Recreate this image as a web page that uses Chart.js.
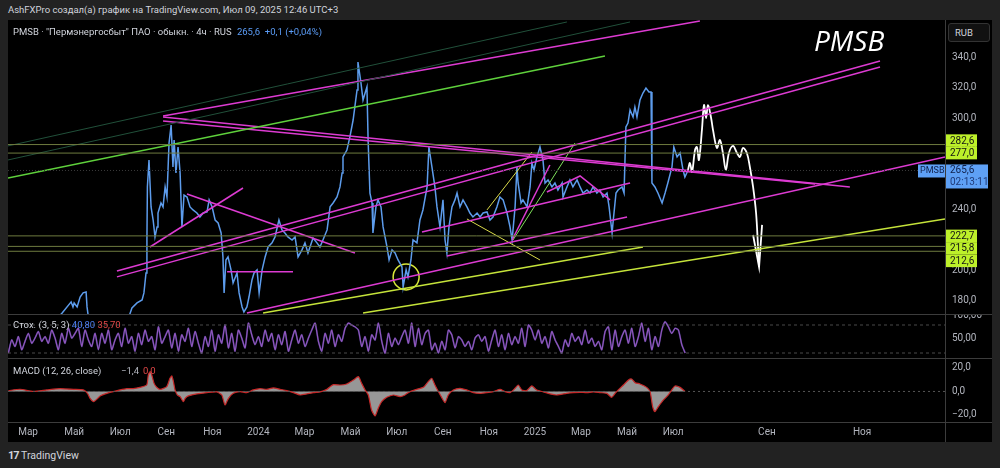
<!DOCTYPE html>
<html>
<head>
<meta charset="utf-8">
<script src="https://cdn.jsdelivr.net/npm/chart.js@4.4.1/dist/chart.umd.min.js"></script>
<style>
  body { margin:0; width:1000px; height:468px; overflow:hidden; background:#222; position:relative;
         font-family: Roboto, "Noto Sans", sans-serif; color:#d1d4dc; }
  .abs { position:absolute; white-space:nowrap; }
  canvas { position:absolute; }
  .sep { position:absolute; background:#3c3c3c; }
</style>
</head>
<body>
<div class="abs" style="left:8px;top:4px;font-size:9.5px;line-height:12px">AshFXPro создал(а) график на TradingView.com, Июл 09, 2025 12:46 UTC+3</div>
<div class="abs" style="left:8px;top:20px;width:984px;height:422px;background:#000"></div>

<canvas id="main" width="984" height="295" style="left:8px;top:20px"></canvas>
<canvas id="stoch" width="984" height="43" style="left:8px;top:315px"></canvas>
<canvas id="macd" width="984" height="84" style="left:8px;top:358px"></canvas>

<div class="sep" style="left:8px;top:314px;width:984px;height:1px"></div>
<div class="sep" style="left:8px;top:358px;width:984px;height:1px"></div>
<div class="sep" style="left:8px;top:422px;width:984px;height:1px"></div>
<div class="sep" style="left:945px;top:20px;width:1px;height:422px"></div>

<div class="abs" style="left:948px;top:23px;width:40px;height:17px;border:1px solid #333;border-radius:3px;background:#111;font-size:9.5px;line-height:17px;text-indent:6px">RUB</div>

<div class="abs" style="left:13px;top:26px;font-size:9.5px;line-height:12px">PMSB · "Пермэнергосбыт" ПАО · обыкн. · 4ч · RUS <span style="color:#5b9cf6;margin-left:3px">265,6 &nbsp;+0,1 (+0,04%)</span></div>
<div class="abs" style="left:814px;top:22px;font-size:28px;font-style:italic;color:#fff;font-family:'Open Sans',sans-serif;line-height:36px">PMSB</div>

<div class="abs" style="left:13px;top:319px;font-size:9.5px;line-height:12px">Стох. (3, 5, 3) <span style="color:#4d7ff0">40,80</span> <span style="color:#e04848">35,70</span></div>
<div class="abs" style="left:13px;top:365px;font-size:9.5px;line-height:12px">MACD (12, 26, close)</div>
<div class="abs" style="left:121px;top:365px;font-size:9.5px;line-height:12px;color:#b2b5be">−1,4</div>
<div class="abs" style="left:143px;top:365px;font-size:9.5px;line-height:12px;color:#e04848">0,0</div>

<div class="abs" style="left:8px;top:449px;font-size:10.5px;line-height:14px"><b style="letter-spacing:-1px;font-size:11px">17</b> TradingView</div>

<script>
// x unit: months since Jan 2023 (history spacing), future ticks as drawn by TradingView
const xMin = 1.13, xMax = 41.8;
const timeTicks = [2,4,6,8,10,12,14,16,18,20,22,24,26,28,30,34.07,38.2];
const timeLabels = ['Мар','Май','Июл','Сен','Ноя','2024','Мар','Май','Июл','Сен','Ноя','2025','Мар','Май','Июл','Сен','Ноя'];
const priceTicks = [180,200,220,240,260,280,300,320,340];

const priceT = [1.13,2.09,3.17,3.48,3.87,3.95,4.00,4.13,4.26,4.39,
  4.52,4.56,4.65,5.56,6.34,6.51,6.73,6.95,7.03,7.12,
  7.16,7.18,7.25,7.34,7.43,7.51,7.60,7.64,7.77,7.86,
  7.95,8.03,8.12,8.21,8.29,8.34,8.42,8.51,8.60,8.68,
  8.77,8.90,9.03,9.16,9.33,9.46,9.60,9.77,9.86,9.99,
  10.12,10.25,10.38,10.46,10.51,10.59,10.68,10.81,10.90,11.07,
  11.16,11.29,11.37,11.50,11.59,11.72,11.81,11.94,12.03,12.16,
  12.29,12.42,12.59,12.72,12.89,13.02,13.15,13.28,13.46,13.59,
  13.72,13.89,14.02,14.15,14.37,14.54,14.67,14.80,14.98,15.11,
  15.24,15.41,15.54,15.63,15.67,15.84,15.97,16.11,16.28,16.32,
  16.45,16.54,16.63,16.71,16.76,16.84,16.93,16.97,17.10,17.19,
  17.32,17.41,17.58,17.67,17.80,17.93,18.06,18.23,18.28,18.41,
  18.49,18.62,18.71,18.88,19.01,19.14,19.32,19.40,19.53,19.66,
  19.75,19.88,20.01,20.10,20.18,20.27,20.40,20.53,20.62,20.75,
  20.88,21.05,21.18,21.31,21.49,21.62,21.75,21.92,22.05,22.18,
  22.35,22.48,22.62,22.79,22.92,23.01,23.14,23.22,23.27,23.40,
  23.48,23.66,23.79,23.87,23.96,24.09,24.22,24.35,24.44,24.57,
  24.74,24.87,25.00,25.18,25.22,25.39,25.52,25.65,25.83,25.96,
  26.09,26.26,26.39,26.52,26.69,26.82,26.96,27.13,27.22,27.35,
  27.39,27.52,27.61,27.78,27.87,27.95,28.04,28.13,28.26,28.34,
  28.43,28.56,28.69,28.82,28.95,29.04,29.08,29.21,29.34,29.52,
  29.65,29.77,29.95,30.03,30.17,30.30,30.43,30.51,30.64];
const priceV = [162,165,167,172.1,179.4,176.1,178.7,176.1,182.6,185.3,
  185.9,176.1,166,163,168,175.4,178.7,180.7,185.3,198.4,
  220.0,254.8,272.5,241.7,233.1,222.0,228.6,237.7,244.3,241.7,
  254.8,248.2,283.6,295.4,267.9,285.6,264.0,281.0,264.0,228.6,
  249.5,248.2,241.7,239.7,237.7,235.1,237.7,238.4,246.3,241.7,
  233.1,231.2,224.6,208.9,185.3,206.9,208.9,200.4,191.8,198.4,
  185.3,176.1,172.8,176.1,182.6,193.8,198.4,200.4,185.3,200.4,
  208.9,215.4,218.1,222.0,233.1,226.6,224.6,222.0,220.0,222.0,
  208.9,213.5,218.1,211.5,221.3,218.1,215.4,220.0,226.6,241.7,
  244.3,248.2,254.8,264.0,274.5,279.0,287.6,298.7,318.4,336.7,
  323.0,311.8,316.4,320.4,285.6,250.8,244.3,224.6,241.7,246.3,
  241.7,228.6,215.4,206.9,213.5,211.5,206.9,202.3,189.2,200.4,
  195.8,206.9,220.0,218.1,233.1,239.7,254.8,281.0,267.9,254.8,
  241.7,228.6,246.3,220.0,211.5,228.6,241.7,246.3,250.8,241.7,
  246.3,241.7,237.7,235.1,237.7,235.1,237.7,238.4,233.1,235.1,
  241.7,248.2,246.3,237.7,228.6,220.0,241.7,267.9,257.4,244.3,
  246.3,241.7,254.8,270.5,265.9,274.5,281.0,272.5,257.4,259.4,
  254.8,257.4,252.8,257.4,248.2,254.8,259.4,254.8,259.4,254.8,
  250.8,252.8,250.8,254.8,250.8,252.8,248.2,250.8,241.7,224.6,
  231.2,250.8,252.8,254.8,250.8,294.1,296.7,305.3,300.7,307.2,
  300.7,311.8,316.4,319.7,317.1,317.1,257.4,254.8,250.8,244.3,
  250.8,257.4,267.9,281.0,274.5,277.1,265.9,261.3,265.6];

// hand-drawn forecast
const fcT = [30.64,30.73,30.82,30.95,31.03,31.12,31.25,31.34,31.43,31.51,31.64,31.73,31.90,32.03,32.16,32.29,32.42,32.60,32.77,32.90,33.03,33.20,33.33,33.47,33.60,33.68,33.73];
const fcV = [265.6,270.5,264.6,279.0,281.0,272.5,292.2,308.5,300.0,308.5,300.7,292.2,280.4,285.6,277.1,265.9,277.1,281.7,277.1,274.5,280.4,277.1,267.9,254.8,237.7,216.8,202.3];
const arrowT = [33.47,33.73,33.86];
const arrowV = [223.3,202.3,229.9];

const lastPrice = 265.6;
const levelValues = [282.6, 277.0, 222.7, 215.8, 212.6];

// drawings [month, price]
const darkGreenLines = [[[1.13,281.7],[25.39,363.0]], [[1.13,272.5],[28.13,363.0]]];
const greenLines = [[[1.13,260.7],[27.04,340.7]]];
const lightGreenLines = [[[23.05,220.0],[25.74,283.6]]];
const magentaLines = [
  [[7.86,301.3],[31.16,363.6]],
  [[7.86,300.7],[37.67,254.8]],
  [[7.86,298.1],[36.16,256.8]],
  [[5.86,199.7],[38.98,337.4]],
  [[5.86,195.8],[38.98,333.5]],
  [[11.50,172.1],[41.80,274.5]],
  [[8.90,250.2],[16.19,211.5]],
  [[7.29,215.4],[11.33,254.1]],
  [[10.64,199.1],[13.50,199.1]],
  [[19.10,225.3],[28.13,257.4]],
  [[20.18,209.5],[28.00,235.1]],
  [[23.01,220.0],[24.65,269.2]],
  [[24.52,251.5],[25.96,262.0],[27.26,246.3]]
];
const limeLines = [[[12.20,172.1],[28.69,215.4]], [[16.54,172.1],[41.80,233.8]]];
const yellowLines = [[[21.05,233.8],[24.22,206.9]], [[21.92,239.7],[23.87,277.7]]];
const circleMark = [18.41, 195.8];

// Stochastic, evenly spaced samples
const stochStart = 1.146, stochStep = 0.1447;
const stochV = [20,48,34,55,27,45,62,41,52,66,
  45,55,41,69,52,27,62,41,73,52,
  62,73,34,69,48,34,62,27,62,41,
  69,27,48,62,34,73,41,55,24,62,
  38,69,45,55,27,76,41,55,69,31,
  62,24,59,45,73,34,66,41,20,55,
  34,69,24,59,41,80,31,62,24,69,
  52,31,84,59,38,55,34,69,45,62,
  27,59,38,66,24,48,69,41,59,34,
  52,69,84,45,24,62,41,69,34,59,
  45,73,84,
  80,76,69,34,55,24,59,48,84,45,
  20,62,34,52,38,55,69,41,84,34,
  73,38,62,69,27,41,20,45,27,69,
  59,31,55,48,34,45,27,52,59,45,
  55,24,48,69,34,59,27,62,38,55,
  41,73,34,80,69,48,69,41,55,31,
  66,48,34,20,48,34,62,45,55,38,
  69,41,52,34,45,27,66,76,27,69,
  34,55,69,41,73,34,55,84,45,73,
  27,55,34,69,87,76,62,73,69,38,
  20];
const stochLevels = [80, 20];
const stochTicks = [50, 100];

// MACD
const macdT = [1.15,1.65,2.23,2.81,3.39,3.97,4.40,4.58,4.69,4.84,
  4.98,5.13,5.42,5.70,5.99,6.28,6.57,6.86,7.15,7.22,
  7.30,7.37,7.47,7.59,7.73,8.02,8.16,8.24,8.31,8.38,
  8.48,8.60,8.74,8.82,8.96,9.32,9.76,10.19,10.41,10.55,
  10.70,10.91,11.20,11.49,11.78,12.07,12.36,12.65,12.94,13.23,
  13.52,13.81,14.10,14.39,14.68,14.97,15.11,15.26,15.54,15.83,
  16.12,16.34,16.48,16.63,16.77,16.91,17.06,17.20,17.35,17.57,
  17.86,18.15,18.36,18.58,18.87,19.16,19.37,19.52,19.66,19.81,
  19.95,20.10,20.24,20.46,20.75,21.04,21.33,21.62,21.91,22.20,
  22.49,22.70,22.92,23.14,23.28,23.43,23.64,23.86,24.08,24.37,
  24.66,24.95,25.38,25.67,25.96,26.25,26.54,26.83,27.12,27.33,
  27.48,27.62,27.84,28.06,28.20,28.35,28.56,28.85,29.00,29.11,
  29.21,29.36,29.58,29.79,29.94,30.08,30.30,30.52];
const macdV = [0.7,1.9,0.1,1.3,2.4,1.8,1.3,-1.6,-5.8,-8.7,
  -6.7,-3.8,-1.6,-0.1,1.3,2.4,2.4,3.5,5.5,14.0,
  16.9,14.0,6.9,3.5,1.8,4.1,11.2,13.2,8.4,1.3,
  -3.0,-4.4,-8.7,-5.8,-3.8,-2.1,-1.0,-0.4,-3.0,-11.5,
  -5.8,-1.6,-0.1,-1.0,1.3,2.4,1.8,3.0,1.8,0.7,
  -1.0,-3.0,-2.1,-1.0,-0.4,1.8,4.1,5.8,5.5,6.4,
  9.8,12.6,6.9,1.3,-3.0,-15.8,-20.9,-14.3,-8.7,-5.0,
  -3.0,-4.4,-3.0,-0.1,1.8,3.5,8.4,11.2,5.5,-0.1,
  -5.0,-9.5,-3.0,1.3,2.7,1.3,-1.0,-1.6,-1.0,-0.1,
  1.8,-0.1,-1.0,2.7,5.5,1.3,0.7,4.7,1.3,-0.4,
  -2.1,-3.0,-1.6,-1.0,-0.7,-1.0,-0.4,-1.0,-1.6,-5.0,
  -1.6,1.3,5.5,9.8,10.6,7.5,6.4,3.5,-0.1,-12.9,
  -17.2,-12.9,-7.2,-3.0,1.3,4.7,3.5,-0.1];
const macdTicks = [-20, 0, 20];

Chart.defaults.font.family = 'Roboto, "Noto Sans", sans-serif';
Chart.defaults.font.size = 10;
Chart.defaults.color = '#b2b5be';

const comma = (v, d) => v.toFixed(d).replace('.', ',').replace('-', '−');

function lineSet(lines, color, width, dash) {
  return lines.map(l => ({
    data: l.map(p => ({x: p[0], y: p[1]})),
    borderColor: color, borderWidth: width, borderDash: dash || [],
    pointRadius: 0, tension: 0
  }));
}
function hLine(v, color, dash) {
  return {data: [{x: xMin, y: v}, {x: xMax, y: v}], borderColor: color, borderWidth: 1,
          borderDash: dash || [], pointRadius: 0};
}
function yAxis(min, max, ticks, fmt) {
  return {
    position: 'right', min, max,
    afterFit: s => { s.width = 47; s.paddingTop = 0; s.paddingBottom = 0; },
    afterBuildTicks: s => { s.ticks = ticks.map(v => ({value: v})); },
    ticks: {padding: 7, callback: fmt, color: '#b2b5be'},
    grid: {display: false, drawTicks: false},
    border: {display: false}
  };
}
const hiddenX = {type: 'linear', min: xMin, max: xMax, display: false};
const baseOpts = {
  responsive: false, animation: false, events: [],
  layout: {padding: 0, autoPadding: false},
  plugins: {legend: {display: false}, tooltip: {enabled: false}}
};

// price label boxes on the right axis
const boxesPlugin = {
  id: 'boxes',
  afterDraw(chart) {
    const {ctx, chartArea: a} = chart;
    const y = chart.scales.y;
    const h = 12.5, w = 32;
    const yl = y.getPixelForValue(lastPrice);
    const placed = [];
    let prev = yl - 6;
    levelValues.filter(v => v > lastPrice).sort((p, q) => p - q).forEach(v => {
      const py = Math.min(y.getPixelForValue(v), prev - h / 2);
      placed.push([v, py]); prev = py - h / 2;
    });
    prev = yl + 18;
    levelValues.filter(v => v < lastPrice).sort((p, q) => q - p).forEach(v => {
      const py = Math.max(y.getPixelForValue(v), prev + h / 2);
      placed.push([v, py]); prev = py + h / 2;
    });
    ctx.save();
    ctx.font = '10px Roboto';
    ctx.textBaseline = 'middle';
    placed.forEach(([v, py]) => {
      ctx.fillStyle = '#bdf02a';
      ctx.fillRect(a.right, py - h / 2, w, h);
      ctx.fillStyle = '#141414';
      ctx.fillText(comma(v, 1), a.right + 5, py + 0.5);
    });
    // current price
    ctx.fillStyle = '#5ea0f5';
    ctx.fillRect(a.right, yl - 6, 43, 24);
    ctx.fillRect(a.right - 27, yl - 6, 27, 13);
    ctx.fillStyle = '#10204a';
    ctx.fillText(comma(lastPrice, 1), a.right + 5, yl + 0.5);
    ctx.fillStyle = '#1f3a78';
    ctx.fillText('02:13:11', a.right + 5, yl + 12);
    ctx.fillStyle = '#10204a';
    ctx.font = '9px Roboto';
    ctx.fillText('PMSB', a.right - 25, yl + 0.5);
    ctx.restore();
  }
};

const mainSets = [
  hLine(lastPrice, '#3a3a3a', [1, 2]),
  ...levelValues.map(v => hLine(v, '#6e7b3f')),
  ...lineSet(darkGreenLines, '#21503a', 1),
  ...lineSet(greenLines, '#5fd13c', 1.5),
  ...lineSet(magentaLines, '#dd3bd2', 1.5),
  ...lineSet(limeLines, '#c5e33a', 1.5),
  ...lineSet(yellowLines, '#dada4a', 1),
  ...lineSet(lightGreenLines, '#7ee05a', 1),
  {data: priceT.map((t, i) => ({x: t, y: priceV[i]})), borderColor: '#5d9cec', borderWidth: 1.5, pointRadius: 0, tension: 0},
  {data: fcT.map((t, i) => ({x: t, y: fcV[i]})), borderColor: '#ffffff', borderWidth: 1.8, pointRadius: 0, tension: 0.35},
  {data: arrowT.map((t, i) => ({x: t, y: arrowV[i]})), borderColor: '#ffffff', borderWidth: 1.8, pointRadius: 0, tension: 0},
  {data: [{x: circleMark[0], y: circleMark[1]}], showLine: false, pointRadius: 13, pointBorderWidth: 1.5,
   pointBorderColor: '#d9e83a', pointBackgroundColor: 'rgba(0,0,0,0)'}
];

new Chart(document.getElementById('main'), {
  type: 'line',
  data: {datasets: mainSets},
  options: Object.assign({}, baseOpts, {
    scales: {x: hiddenX, y: yAxis(170.8, 364.3, priceTicks, v => comma(v, 1))}
  }),
  plugins: [boxesPlugin]
});

const stochData = stochV.map((v, i) => ({x: stochStart + i * stochStep, y: v}));
new Chart(document.getElementById('stoch'), {
  type: 'line',
  data: {datasets: [
    ...stochLevels.map(v => hLine(v, '#4a4a4a', [3, 3])),
    {data: stochData, borderColor: 'rgba(80,100,225,0.45)', borderWidth: 1.8, pointRadius: 0, tension: 0.2},
    {data: stochData, borderColor: '#c94ba0', borderWidth: 1.2, pointRadius: 0, tension: 0.2}
  ]},
  options: Object.assign({}, baseOpts, {
    scales: {x: hiddenX, y: yAxis(9.3, 101.4, stochTicks, v => comma(v, 2))}
  })
});

new Chart(document.getElementById('macd'), {
  type: 'line',
  data: {datasets: [
    hLine(0, '#555', [2, 3]),
    {data: macdT.map((t, i) => ({x: t, y: macdV[i]})), borderColor: '#c62828', borderWidth: 1.2,
     backgroundColor: 'rgba(178,178,178,0.85)', fill: 'origin', pointRadius: 0, tension: 0.2}
  ]},
  options: Object.assign({}, baseOpts, {
    scales: {
      x: {
        type: 'linear', min: xMin, max: xMax,
        afterFit: s => { s.height = 20; s.paddingLeft = 0; s.paddingRight = 0; },
        afterBuildTicks: s => { s.ticks = timeTicks.map(v => ({value: v})); },
        ticks: {autoSkip: false, maxRotation: 0, padding: 4, color: '#b2b5be',
                callback: (v, i) => timeLabels[i]},
        grid: {display: false, drawTicks: false},
        border: {display: false}
      },
      y: yAxis(-26, 28.5, macdTicks, v => comma(v, 1))
    }
  })
});
</script>
</body>
</html>
